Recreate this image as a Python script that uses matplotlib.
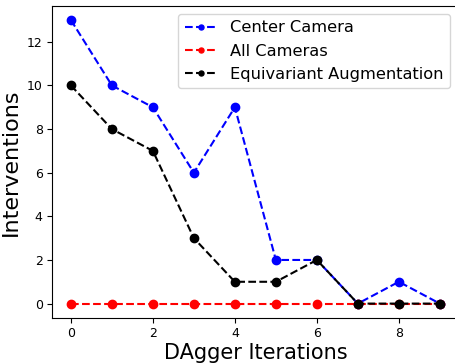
import numpy as np
import matplotlib
matplotlib.use("Agg")
import matplotlib.pyplot as plt

iterations = list(range(10))
center_camera = [13, 10, 9, 6, 9, 2, 2, 0, 1, 0]
all_cameras = [0, 0, 0, 0, 0, 0, 0, 0, 0, 0]
equivariant = [10, 8, 7, 3, 1, 1, 2, 0, 0, 0]

fig, ax = plt.subplots(figsize=(4.56, 3.64), dpi=100)
ax.plot(iterations, center_camera, "b--o", label="Center Camera")
ax.plot(iterations, all_cameras, "r--o", label="All Cameras")
ax.plot(iterations, equivariant, "k--o", label="Equivariant Augmentation")
ax.set_xlabel("DAgger Iterations", fontsize=15, labelpad=1.5)
ax.set_ylabel("Interventions", fontsize=16)
ax.tick_params(labelsize=9)
ax.legend(fontsize=11.7, loc="upper right", markerscale=0.6, labelspacing=0.5)
fig.subplots_adjust(left=0.115, right=1.005, top=0.984, bottom=0.127)
fig.savefig("out.png")
